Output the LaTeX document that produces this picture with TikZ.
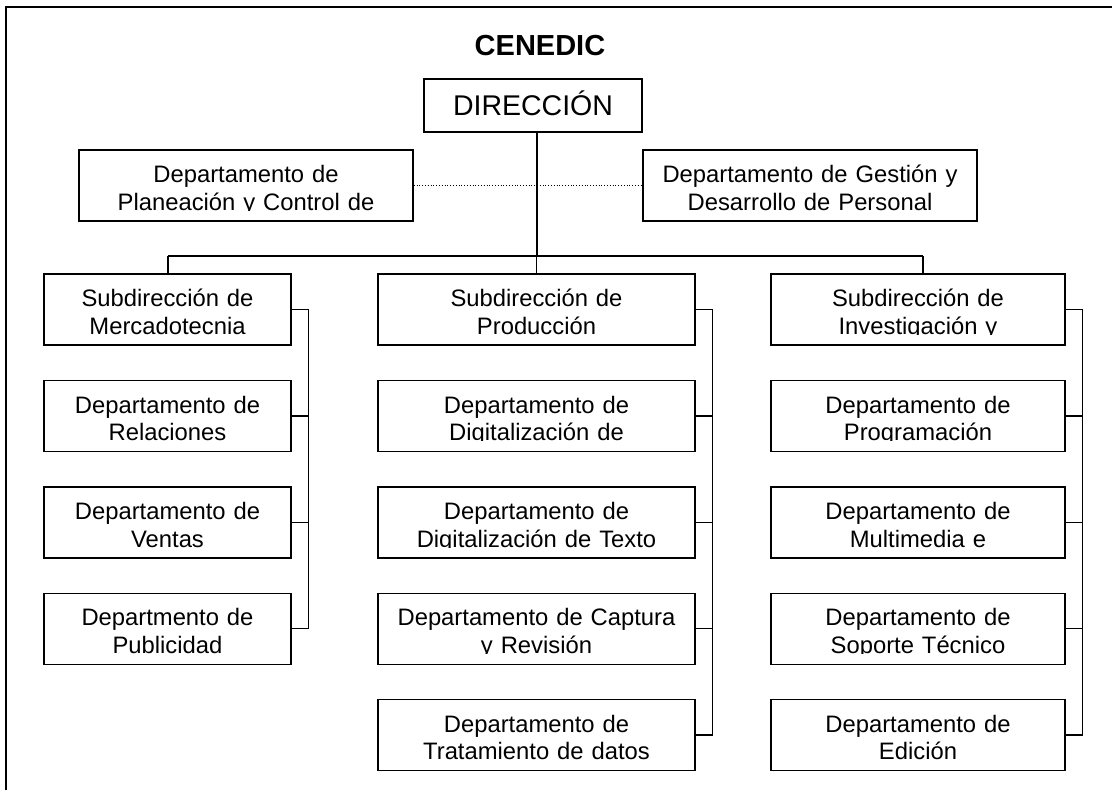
\documentclass[tikz,border=0pt]{standalone}
\usepackage{fontspec}
\setmainfont{Liberation Sans}
\begin{document}
\begin{tikzpicture}[x=1pt, y=-1pt,
    box/.style={draw, line width=1.4pt, inner sep=4pt, align=center,
        minimum height=71pt, text height=15pt, text depth=20.6pt,
        font=\fontsize{23.8}{27.5}\selectfont},
    link/.style={line width=1.4pt},
    colA/.style={box, text width=239pt},
    colB/.style={box, text width=309pt},
    colC/.style={box, text width=286pt}]
    \useasboundingbox (0,0) rectangle (1112,790);
    \draw[line width=2pt] (6,7) rectangle (1130,810);

    \node[inner sep=0, text height=20.8pt, text depth=0pt,
        font=\fontsize{29}{34}\selectfont\bfseries] (title) at (540,45) {CENEDIC};
    \node[draw, line width=1.4pt, minimum width=218pt, minimum height=53pt, inner sep=0,
        text height=20.4pt, text depth=0pt,
        font=\fontsize{28.5}{34}\selectfont] (dir) at (533,105.5) {DIRECCIÓN};

    \node[box, text width=326pt] (plan) at (246,185.5) {Departamento de\\Planeación y Control de};
    \node[box, text width=326pt] (gest) at (810,185.5) {Departamento de Gestión y\\Desarrollo de Personal};

    % mercadotecnia
    \node[colA] (mkt) at (167.5,309.5) {Subdirección de\\Mercadotecnia};
    \node[colA] (rel) at (167.5,415.9) {Departamento de\\Relaciones};
    \node[colA] (ven) at (167.5,522.3) {Departamento de\\Ventas};
    \node[colA] (pub) at (167.5,628.7) {Departmento de\\Publicidad};

    % produccion
    \node[colB] (prod) at (536.5,309.5) {Subdirección de\\Producción};
    \node[colB] (dimg) at (536.5,415.9) {Departamento de\\Digitalización de};
    \node[colB] (dtxt) at (536.5,522.3) {Departamento de\\Digitalización de Texto};
    \node[colB] (capt) at (536.5,628.7) {Departamento de Captura\\y Revisión};
    \node[colB] (trat) at (536.5,735.1) {Departamento de\\Tratamiento de datos};

    % investigacion
    \node[colC] (inv) at (918,309.5) {Subdirección de\\Investigación y};
    \node[colC] (prog) at (918,415.9) {Departamento de\\Programación};
    \node[colC] (mult) at (918,522.3) {Departamento de\\Multimedia e};
    \node[colC] (sop) at (918,628.7) {Departamento de\\Soporte Técnico};
    \node[colC] (edi) at (918,735.1) {Departamento de\\Edición};

    % text boxes cut off below the last line
    \foreach \n in {plan,gest,mkt,rel,ven,pub,prod,dimg,dtxt,capt,trat,inv,prog,mult,sop,edi}
        \fill[white] ([xshift=2.2pt,yshift=2.2pt]\n.south west) rectangle ([xshift=-2.2pt,yshift=10.7pt]\n.south east);

    \draw[dotted, line width=0.8pt] (plan.east) -- (gest.west);

    \coordinate (busL) at (168,256);
    \coordinate (busR) at (923,256);
    \draw[link] ([xshift=4pt]dir.south) -- ([xshift=4pt]dir.south |- busL);
    \draw[link] (busL) -- (busR);
    \draw[link] (busL) -- (busL |- mkt.north);
    \draw[link] (prod.north) -- (prod.north |- busL);
    \draw[link] (busR) -- (busR |- inv.north);

    \draw[link] (mkt.east) -- ++(17,0) |- (pub.east);
    \draw[link] (rel.east) -- ++(17,0);
    \draw[link] (ven.east) -- ++(17,0);

    \draw[link] (prod.east) -- ++(17,0) |- (trat.east);
    \draw[link] (dimg.east) -- ++(17,0);
    \draw[link] (dtxt.east) -- ++(17,0);
    \draw[link] (capt.east) -- ++(17,0);

    \draw[link] (inv.east) -- ++(17,0) |- (edi.east);
    \draw[link] (prog.east) -- ++(17,0);
    \draw[link] (mult.east) -- ++(17,0);
    \draw[link] (sop.east) -- ++(17,0);
\end{tikzpicture}
\end{document}
